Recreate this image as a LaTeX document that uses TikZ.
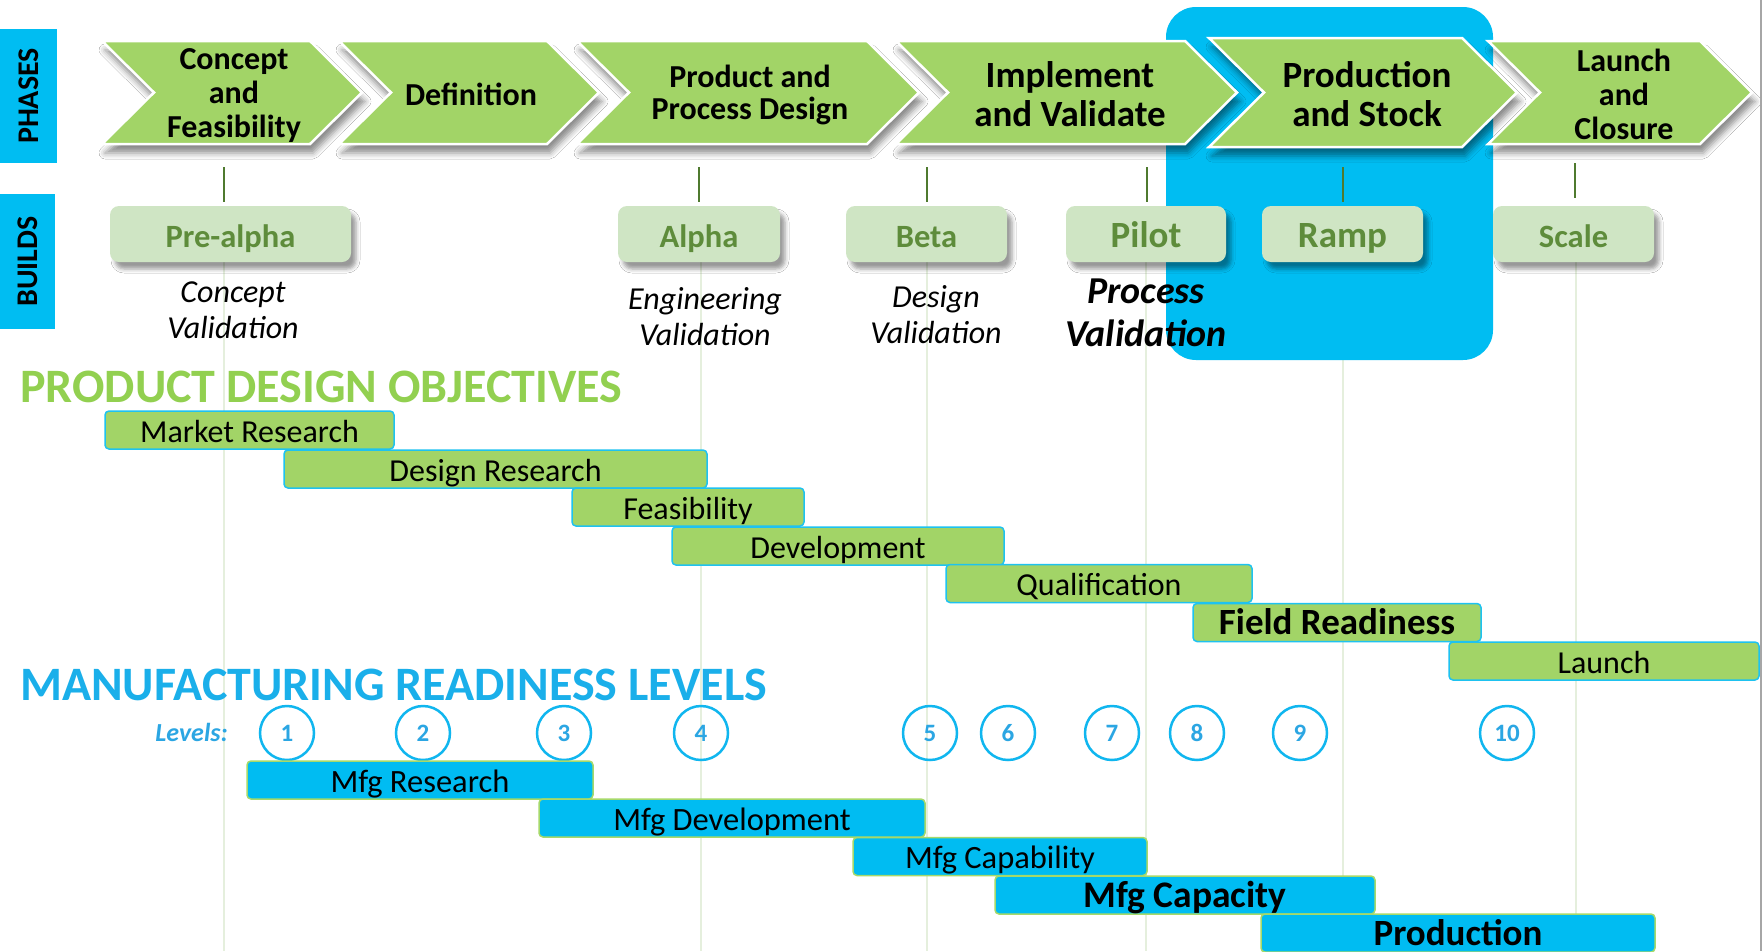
\documentclass[tikz,border=0pt]{standalone}
\usepackage{fontspec}
\setmainfont{Carlito}
\usetikzlibrary{shadows,shadows.blur}
\definecolor{chevgreen}{HTML}{A2D467}
\definecolor{bluezone}{HTML}{00BDF2}
\definecolor{buildfill}{HTML}{CFE5C4}
\definecolor{buildtext}{HTML}{5E8C3B}
\definecolor{tickgreen}{HTML}{4F7A2F}
\definecolor{gridcol}{HTML}{E5EFDD}
\definecolor{headgreen}{HTML}{92D050}
\definecolor{headblue}{HTML}{1AAFEA}
\definecolor{barcyan}{HTML}{00BCF2}
\definecolor{greenbarborder}{HTML}{1EC2F0}
\definecolor{bluebarborder}{HTML}{A6D96A}
\definecolor{circlecol}{HTML}{10B6EF}
\definecolor{numcol}{HTML}{2BA6E3}
\newcommand\setfs[2]{\fontsize{#1}{#2}\selectfont}
\newcommand\chevron[5]{% left, corner, top, bottom, depth
  \path[chev] (#1,#3) -- (#2,#3) -- ({#2+#5},{(#3+#4)/2}) -- (#2,#4) -- (#1,#4) -- ({#1+#5},{(#3+#4)/2}) -- cycle;}
\tikzset{
  chev/.style={fill=chevgreen, draw=white, line width=2.5pt, line join=miter,
    blur shadow={shadow xshift=3pt, shadow yshift=-9pt, shadow blur radius=6pt, shadow opacity=45}},
  chevtext/.style={align=center, text=black, inner sep=0pt},
  buildbox/.style={fill=buildfill, rounded corners=9pt, minimum height=56pt, inner sep=0pt,
    text height=27pt, text depth=0pt,
    text=buildtext, font=\bfseries\setfs{32.5}{34},
    blur shadow={shadow xshift=5pt, shadow yshift=-7pt, shadow blur radius=4pt, shadow opacity=40}},
  caption/.style={align=center, inner sep=0pt, font=\itshape\setfs{32}{36}},
  tick/.style={draw=tickgreen, line width=2.5pt},
  gridline/.style={draw=gridcol, line width=2pt},
  sidelab/.style={fill=bluezone, rotate=90, inner sep=0pt, font=\bfseries\setfs{30}{30}, text=black},
  bar/.style={rounded corners=4pt, minimum height=38pt, inner sep=0pt, text height=24pt, text depth=0pt, text=black},
  gbar/.style={bar, fill=chevgreen, draw=greenbarborder, line width=1.5pt, font=\setfs{32}{33}},
  bbar/.style={bar, fill=barcyan, draw=bluebarborder, line width=1.5pt, font=\setfs{32.5}{33}},
  level/.style={circle, draw=circlecol, line width=2.5pt, minimum size=54pt, inner sep=0pt,
    text=numcol, font=\bfseries\setfs{25}{25}},
}
\begin{document}
\begin{tikzpicture}[x=1pt,y=-1pt]
\useasboundingbox (0,0) rectangle (1762,951);
\fill[white] (0,0) rectangle (1762,951);

% faint grid lines
\foreach \gx in {224,701,927,1146,1343,1576}
  \draw[gridline] (\gx,262) -- (\gx,951);

% production zone
\fill[bluezone, rounded corners=30pt] (1166,7) rectangle (1493,360);

% side labels
\node[sidelab, minimum width=134pt, minimum height=57pt] (phases) at (28.5,96) {PHASES};
\node[sidelab, minimum width=135pt, minimum height=55pt] (builds) at (27.5,261.5) {BUILDS};

% chevrons
\chevron{102}{310}{41}{144}{52}
\chevron{339}{547}{41}{144}{52}
\chevron{577}{867}{41}{144}{52}
\chevron{896}{1185}{41}{144}{52}
\chevron{1488}{1700}{41}{144}{52}
\chevron{1209}{1462}{38}{147}{55}

\node[chevtext, font=\bfseries\setfs{32}{34}] (c1) at (234,96) {Concept\\and\\Feasibility};
\node[chevtext, font=\bfseries\setfs{32}{34}] (c2) at (471,94) {Definition};
\node[chevtext, font=\bfseries\setfs{32}{32}] (c3) at (750,95) {Product and\\Process Design};
\node[chevtext, font=\bfseries\setfs{37}{39}] (c4) at (1070,94) {Implement\\and Validate};
\node[chevtext, font=\bfseries\setfs{37}{39}] (c5) at (1367,94) {Production\\and Stock};
\node[chevtext, font=\bfseries\setfs{32}{34}] (c6) at (1624,94) {Launch\\and\\Closure};

% ticks
\coordinate (t1a) at (224,167); \coordinate (t1b) at (224,202);
\coordinate (t2a) at (699,167); \coordinate (t2b) at (699,202);
\coordinate (t3a) at (927,167); \coordinate (t3b) at (927,202);
\coordinate (t4a) at (1147,167); \coordinate (t4b) at (1147,202);
\coordinate (t5a) at (1343,167); \coordinate (t5b) at (1343,202);
\coordinate (t6a) at (1575,163); \coordinate (t6b) at (1575,198);
\foreach \i in {1,...,6} \draw[tick] (t\i a) -- (t\i b);

% builds
\node[buildbox, minimum width=241pt] (b1) at (230.5,234) {Pre-alpha};
\node[buildbox, minimum width=162pt] (b2) at (699,234) {Alpha};
\node[buildbox, minimum width=161pt] (b3) at (926.5,234) {Beta};
\node[buildbox, minimum width=160pt, font=\bfseries\setfs{37}{38}] (b4) at (1146,234) {Pilot};
\node[buildbox, minimum width=161pt, font=\bfseries\setfs{37}{38}] (b5) at (1342.5,234) {Ramp};
\node[buildbox, minimum width=161pt] (b6) at (1573.5,234) {Scale};

% captions
\node[caption] (v1) at (233,310) {Concept\\Validation};
\node[caption] (v2) at (705,317) {Engineering\\Validation};
\node[caption] (v3) at (936,315) {Design\\Validation};
\node[caption, font=\bfseries\itshape\setfs{38}{43}] (v4) at (1146,313) {Process\\Validation};

% headings
\node[anchor=base west, inner sep=0pt, text=headgreen, font=\bfseries\setfs{48}{48}] (pdo) at (20,402) {PRODUCT DESIGN OBJECTIVES};
\node[anchor=base west, inner sep=0pt, text=headblue, font=\bfseries\setfs{48}{48}] (mrl) at (20,700) {MANUFACTURING READINESS LEVELS};

% design bars
\node[gbar, minimum width=289pt] (d1) at (249.5,430) {Market Research};
\node[gbar, minimum width=423pt] (d2) at (495.5,469) {Design Research};
\node[gbar, minimum width=232pt] (d3) at (688,507) {Feasibility};
\node[gbar, minimum width=332pt] (d4) at (838,546) {Development};
\node[gbar, minimum width=306pt] (d5) at (1099,583.5) {Qualification};
\node[gbar, minimum width=288pt, font=\bfseries\setfs{37}{38}] (d6) at (1337,622.5) {Field Readiness};
\node[gbar, minimum width=310pt] (d7) at (1604,661) {Launch};

% levels
\node[anchor=east, inner sep=0pt, text=numcol, font=\bfseries\itshape\setfs{26}{26}] (lv) at (228,732) {Levels:};
\foreach \n/\lx in {1/287,2/423,3/564,4/701,5/930,6/1008,7/1112,8/1197,9/1300,10/1507}
  \node[level] (L\n) at (\lx,733) {\n};

% manufacturing bars
\node[bbar, minimum width=346pt] (m1) at (420,780) {Mfg Research};
\node[bbar, minimum width=386pt] (m2) at (732,818) {Mfg Development};
\node[bbar, minimum width=294pt] (m3) at (1000,856.5) {Mfg Capability};
\node[bbar, minimum width=380pt, font=\bfseries\setfs{37.5}{38}] (m4) at (1185,895) {Mfg Capacity};
\node[bbar, minimum width=394pt, font=\bfseries\setfs{37}{38}] (m5) at (1458,933) {Production};

% right edge rule
\draw[gray!70, line width=1.5pt] (1761,0) -- (1761,951);
\end{tikzpicture}
\end{document}
